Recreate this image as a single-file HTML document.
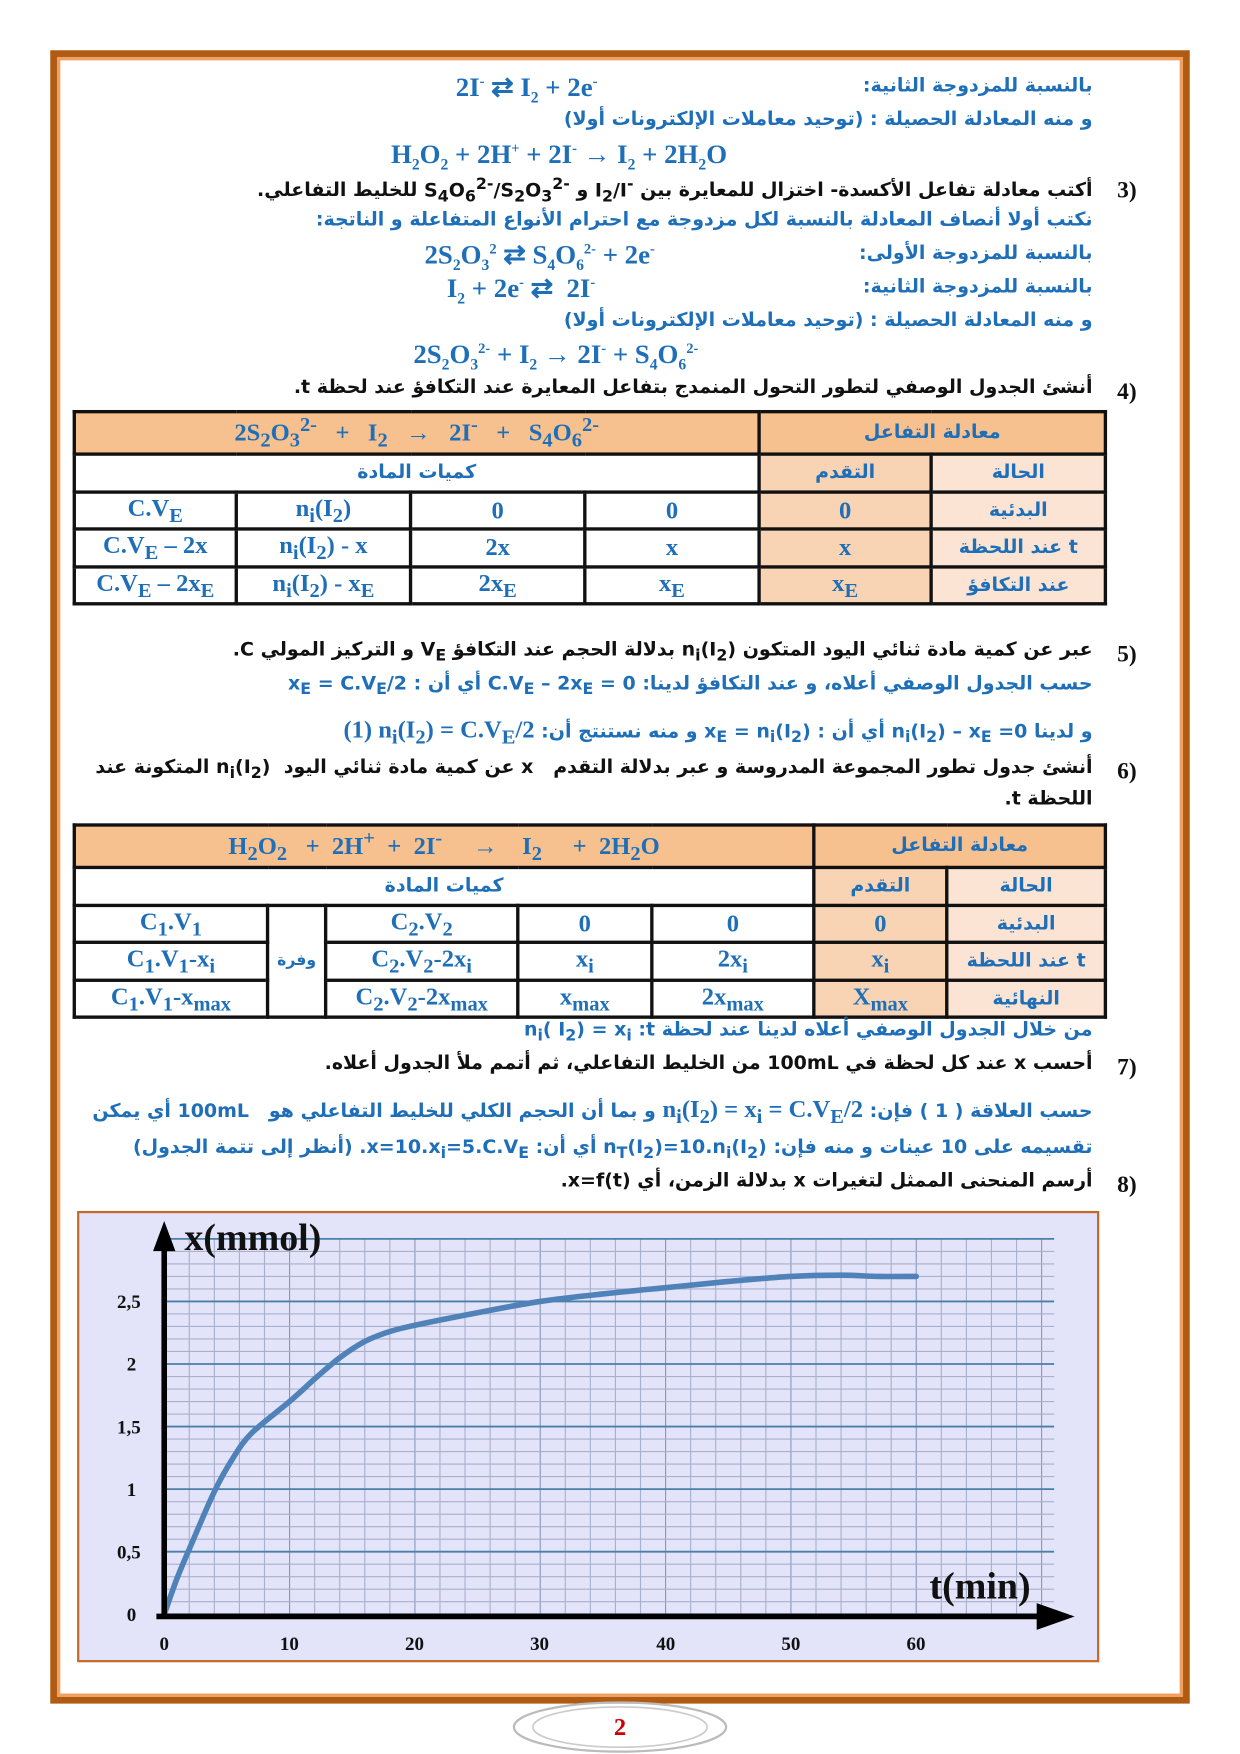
<!DOCTYPE html>
<html><head><meta charset="utf-8"><style>
html,body{margin:0;padding:0;background:#fff}
#pg{position:absolute;left:0;top:0;width:1110px;height:1570px;transform:scale(1.11712);transform-origin:0 0;font-family:"Liberation Serif","DejaVu Sans",serif}
.t{position:absolute;white-space:nowrap;font-size:19px}
.ar{direction:rtl;font-family:"DejaVu Sans",sans-serif;font-size:17px;font-weight:bold}
.b{color:#1f6fb8}.k{color:#111}
.eq{position:absolute;white-space:nowrap;font-weight:bold;color:#1f6fb8;font-size:24px;font-family:"Liberation Serif",serif}
.num{position:absolute;font-weight:bold;font-size:21px;color:#111;font-family:"Liberation Serif",serif}
table{position:absolute;border-collapse:collapse;table-layout:fixed}
td{border:3px solid #111;text-align:center;font-weight:bold;color:#1f6fb8;font-size:22px;padding:0;font-family:"Liberation Serif",serif}
td.a{font-family:"DejaVu Sans",sans-serif;font-size:17px}
.o{background:#f7c08f}.o2{background:#f8d4b4}.o3{background:#fbe4d4}
</style></head><body><div id="pg">
<div style="position:absolute;left:45px;top:45px;width:1008px;height:1468px;border:6px solid #b05a12;box-shadow:inset 0 0 0 3px #f0a060"></div>

<div class="eq" style="left:408px;top:64px">2I<sup style="font-size:13px">-</sup> ⇄ I<sub style="font-size:14px">2</sub> + 2e<sup style="font-size:13px">-</sup></div>
<div class="t ar b" style="right:132px;top:67px">بالنسبة للمزدوجة الثانية:</div>
<div class="t ar b" style="right:132px;top:97px">و منه المعادلة الحصيلة : (توحيد معاملات الإلكترونات أولا)</div>
<div class="eq" style="left:350px;top:125px">H<sub style="font-size:14px">2</sub>O<sub style="font-size:14px">2</sub> + 2H<sup style="font-size:13px">+</sup> + 2I<sup style="font-size:13px">-</sup> → I<sub style="font-size:14px">2</sub> + 2H<sub style="font-size:14px">2</sub>O</div>
<div class="num" style="left:1000px;top:158px">3)</div>
<div class="t ar k" style="right:132px;top:157px">أكتب معادلة تفاعل الأكسدة- اختزال للمعايرة بين <span dir="ltr">I<sub>2</sub>/I<sup>-</sup></span> و <span dir="ltr">S<sub>4</sub>O<sub>6</sub><sup>2-</sup>/S<sub>2</sub>O<sub>3</sub><sup>2-</sup></span> للخليط التفاعلي.</div>
<div class="t ar b" style="right:132px;top:187px">نكتب أولا أنصاف المعادلة بالنسبة لكل مزدوجة مع احترام الأنواع المتفاعلة و الناتجة:</div>
<div class="t ar b" style="right:132px;top:217px">بالنسبة للمزدوجة الأولى:</div>
<div class="eq" style="left:380px;top:214px">2S<sub style="font-size:14px">2</sub>O<sub style="font-size:14px">3</sub><sup style="font-size:13px">2</sup> ⇄ S<sub style="font-size:14px">4</sub>O<sub style="font-size:14px">6</sub><sup style="font-size:13px">2-</sup> + 2e<sup style="font-size:13px">-</sup></div>
<div class="t ar b" style="right:132px;top:247px">بالنسبة للمزدوجة الثانية:</div>
<div class="eq" style="left:400px;top:244px">I<sub style="font-size:14px">2</sub> + 2e<sup style="font-size:13px">-</sup> ⇄ &nbsp;2I<sup style="font-size:13px">-</sup></div>
<div class="t ar b" style="right:132px;top:277px">و منه المعادلة الحصيلة : (توحيد معاملات الإلكترونات أولا)</div>
<div class="eq" style="left:370px;top:304px">2S<sub style="font-size:14px">2</sub>O<sub style="font-size:14px">3</sub><sup style="font-size:13px">2-</sup> + I<sub style="font-size:14px">2</sub> → 2I<sup style="font-size:13px">-</sup> + S<sub style="font-size:14px">4</sub>O<sub style="font-size:14px">6</sub><sup style="font-size:13px">2-</sup></div>
<div class="num" style="left:1000px;top:338px">4)</div>
<div class="t ar k" style="right:132px;top:337px">أنشئ الجدول الوصفي لتطور التحول المنمدج بتفاعل المعايرة عند التكافؤ عند لحظة t.</div>

<table style="left:65px;top:367px;width:923px;height:173px">
<colgroup><col style="width:145px"><col style="width:156px"><col style="width:156px"><col style="width:156px"><col style="width:154px"><col style="width:156px"></colgroup>
<tr style="height:35px" class="o"><td colspan="4">2S<sub>2</sub>O<sub>3</sub><sup>2-</sup> &nbsp; + &nbsp; I<sub>2</sub> &nbsp; → &nbsp; 2I<sup>-</sup> &nbsp; + &nbsp; S<sub>4</sub>O<sub>6</sub><sup>2-</sup></td><td colspan="2" class="a">معادلة التفاعل</td></tr>
<tr style="height:34px"><td colspan="4" class="a">كميات المادة</td><td class="a o2">التقدم</td><td class="a o3">الحالة</td></tr>
<tr><td>C.V<sub>E</sub></td><td>n<sub>i</sub>(I<sub>2</sub>)</td><td>0</td><td>0</td><td class="o2">0</td><td class="a o3">البدئية</td></tr>
<tr><td>C.V<sub>E</sub> – 2x</td><td>n<sub>i</sub>(I<sub>2</sub>) - x</td><td>2x</td><td>x</td><td class="o2">x</td><td class="a o3">عند اللحظة t</td></tr>
<tr><td>C.V<sub>E</sub> – 2x<sub>E</sub></td><td>n<sub>i</sub>(I<sub>2</sub>) - x<sub>E</sub></td><td>2x<sub>E</sub></td><td>x<sub>E</sub></td><td class="o2">x<sub>E</sub></td><td class="a o3">عند التكافؤ</td></tr>
</table>

<div class="num" style="left:1000px;top:573px">5)</div>
<div class="t ar k" style="right:132px;top:572px">عبر عن كمية مادة ثنائي اليود المتكون <span dir="ltr">n<sub>i</sub>(I<sub>2</sub>)</span> بدلالة الحجم عند التكافؤ <span dir="ltr">V<sub>E</sub></span> و التركيز المولي C.</div>
<div class="t ar b" style="right:132px;top:602px">حسب الجدول الوصفي أعلاه، و عند التكافؤ لدينا: <span dir="ltr">C.V<sub>E</sub> – 2x<sub>E</sub> = 0</span> أي أن : <span dir="ltr">x<sub>E</sub> = C.V<sub>E</sub>/2</span></div>
<div class="t ar b" style="right:132px;top:640px">و لدينا <span dir="ltr">n<sub>i</sub>(I<sub>2</sub>) – x<sub>E</sub> =0</span> أي أن : <span dir="ltr">x<sub>E</sub> = n<sub>i</sub>(I<sub>2</sub>)</span> و منه نستنتج أن: <b dir="ltr" style="font-family:'Liberation Serif';font-size:22px">(1) n<sub>i</sub>(I<sub>2</sub>) = C.V<sub>E</sub>/2</b></div>
<div class="num" style="left:1000px;top:678px">6)</div>
<div class="t ar k" style="right:132px;top:677px">أنشئ جدول تطور المجموعة المدروسة و عبر بدلالة التقدم &nbsp; x عن كمية مادة ثنائي اليود &nbsp;<span dir="ltr">n<sub>i</sub>(I<sub>2</sub>)</span> المتكونة عند</div>
<div class="t ar k" style="right:132px;top:705px">اللحظة t.</div>

<table style="left:65px;top:737px;width:923px;height:173px">
<colgroup><col style="width:173px"><col style="width:52px"><col style="width:172px"><col style="width:120px"><col style="width:145px"><col style="width:119px"><col style="width:142px"></colgroup>
<tr style="height:35px" class="o"><td colspan="5">H<sub>2</sub>O<sub>2</sub> &nbsp; + &nbsp;2H<sup>+</sup> &nbsp;+ &nbsp;2I<sup>-</sup> &nbsp; &nbsp; → &nbsp; &nbsp;I<sub>2</sub> &nbsp; &nbsp; + &nbsp;2H<sub>2</sub>O</td><td colspan="2" class="a">معادلة التفاعل</td></tr>
<tr style="height:34px"><td colspan="5" class="a">كميات المادة</td><td class="a o2">التقدم</td><td class="a o3">الحالة</td></tr>
<tr><td>C<sub>1</sub>.V<sub>1</sub></td><td rowspan="3" class="a" style="font-size:14px">وفرة</td><td>C<sub>2</sub>.V<sub>2</sub></td><td>0</td><td>0</td><td class="o2">0</td><td class="a o3">البدئية</td></tr>
<tr><td>C<sub>1</sub>.V<sub>1</sub>-x<sub>i</sub></td><td>C<sub>2</sub>.V<sub>2</sub>-2x<sub>i</sub></td><td>x<sub>i</sub></td><td>2x<sub>i</sub></td><td class="o2">x<sub>i</sub></td><td class="a o3">عند اللحظة t</td></tr>
<tr><td>C<sub>1</sub>.V<sub>1</sub>-x<sub>max</sub></td><td>C<sub>2</sub>.V<sub>2</sub>-2x<sub>max</sub></td><td>x<sub>max</sub></td><td>2x<sub>max</sub></td><td class="o2">X<sub>max</sub></td><td class="a o3">النهائية</td></tr>
</table>

<div class="t ar b" style="right:132px;top:912px">من خلال الجدول الوصفي أعلاه لدينا عند لحظة t: <span dir="ltr">n<sub>i</sub>( I<sub>2</sub>) = x<sub>i</sub></span></div>
<div class="num" style="left:1000px;top:943px">7)</div>
<div class="t ar k" style="right:132px;top:942px">أحسب x عند كل لحظة في 100mL من الخليط التفاعلي، ثم أتمم ملأ الجدول أعلاه.</div>
<div class="t ar b" style="right:132px;top:980px">حسب العلاقة ( 1 ) فإن: <b dir="ltr" style="font-family:'Liberation Serif';font-size:22px">n<sub>i</sub>(I<sub>2</sub>) = x<sub>i</sub> = C.V<sub>E</sub>/2</b> و بما أن الحجم الكلي للخليط التفاعلي هو &nbsp; 100mL أي يمكن</div>
<div class="t ar b" style="right:132px;top:1017px">تقسيمه على 10 عينات و منه فإن: <span dir="ltr">n<sub>T</sub>(I<sub>2</sub>)=10.n<sub>i</sub>(I<sub>2</sub>)</span> أي أن: <b dir="ltr">x=10.x<sub>i</sub>=5.C.V<sub>E</sub></b>. (أنظر إلى تتمة الجدول)</div>
<div class="num" style="left:1000px;top:1048px">8)</div>
<div class="t ar k" style="right:132px;top:1047px">أرسم المنحنى الممثل لتغيرات x بدلالة الزمن، أي x=f(t).</div>

<svg style="position:absolute;left:0;top:0" width="1110" height="1570">
<rect x="70" y="1085" width="913" height="402" fill="#e3e3fa" stroke="#c46a2a" stroke-width="2"/>
<g id="g"></g>
<path id="cv" fill="none" stroke="#4f82b8" stroke-width="5" stroke-linecap="round" stroke-linejoin="round"/>
<line x1="147" y1="1447" x2="147" y2="1112" stroke="#000" stroke-width="5"/>
<polygon points="147,1093 137,1120 157,1120" fill="#000"/>
<line x1="140" y1="1447" x2="935" y2="1447" stroke="#000" stroke-width="5"/>
<polygon points="962,1447 928,1435 928,1459" fill="#000"/>
<text x="165" y="1119" font-family="Liberation Serif" font-weight="bold" font-size="34" fill="#111">x(mmol)</text>
<text x="832" y="1431" font-family="Liberation Serif" font-weight="bold" font-size="34" fill="#111">t(min)</text>
<g font-family="Liberation Serif" font-weight="bold" font-size="17" fill="#111" text-anchor="middle">
<text x="147" y="1477">0</text><text x="259" y="1477">10</text><text x="371" y="1477">20</text><text x="483" y="1477">30</text><text x="596" y="1477">40</text><text x="708" y="1477">50</text><text x="820" y="1477">60</text>
</g>
<g font-family="Liberation Serif" font-weight="bold" font-size="17" fill="#111" text-anchor="end">
<text x="122" y="1451">0</text><text x="126" y="1395">0,5</text><text x="122" y="1339">1</text><text x="126" y="1283">1,5</text><text x="122" y="1227">2</text><text x="126" y="1171">2,5</text>
</g>
</svg>
<script>
(function(){var g=document.getElementById('g'),s='',X=function(t){return 147+t*11.22},Y=function(v){return 1445-v*112};
for(var t=0;t<=71;t+=2){var x=X(t);s+='<line x1="'+x+'" y1="'+Y(3)+'" x2="'+x+'" y2="1445" stroke="'+(t%10==0?'#8a98b8':'#a8b0cc')+'" stroke-width="1"/>';}
for(var i=0;i<=30;i++){var y=Y(i/10);var m=i%5==0;s+='<line x1="147" y1="'+y+'" x2="'+X(71)+'" y2="'+y+'" stroke="'+(m?'#4a7fa8':'#a8b0cc')+'" stroke-width="'+(m?1.6:1)+'"/>';}
g.innerHTML=s;
var p=[[0,0],[1,0.28],[2,0.52],[4,0.98],[5.5,1.25],[7,1.45],[10,1.7],[12,1.88],[14,2.05],[16,2.18],[18,2.26],[20,2.31],[25,2.41],[30,2.5],[35,2.56],[40,2.61],[45,2.66],[50,2.7],[54,2.71],[57,2.7],[60,2.7]];
var P=p.map(function(q){return [X(q[0]),Y(q[1])]});
var d='M'+P[0][0]+','+P[0][1];
for(var i=0;i<P.length-1;i++){var a=P[Math.max(i-1,0)],b=P[i],c=P[i+1],e=P[Math.min(i+2,P.length-1)];
var c1=[b[0]+(c[0]-a[0])/6,b[1]+(c[1]-a[1])/6],c2=[c[0]-(e[0]-b[0])/6,c[1]-(e[1]-b[1])/6];
d+='C'+c1[0].toFixed(1)+','+c1[1].toFixed(1)+' '+c2[0].toFixed(1)+','+c2[1].toFixed(1)+' '+c[0].toFixed(1)+','+c[1].toFixed(1);}
document.getElementById('cv').setAttribute('d',d);})();
</script>
<svg style="position:absolute;left:455px;top:1522px" width="200" height="48"><ellipse cx="100" cy="24" rx="95" ry="22" fill="none" stroke="#bbb" stroke-width="2"/><ellipse cx="100" cy="24" rx="78" ry="18" fill="none" stroke="#ccc" stroke-width="1.5"/><text x="100" y="31" text-anchor="middle" font-family="Liberation Serif" font-weight="bold" font-size="22" fill="#c00">2</text></svg>
</div></body></html>
